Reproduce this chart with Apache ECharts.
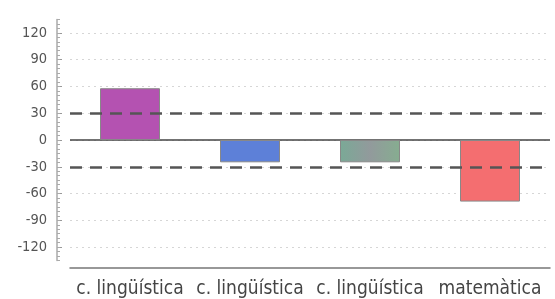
<!doctype html>
<html>
<head>
<meta charset="UTF-8">
<title>chart</title>
<script src="https://cdn.jsdelivr.net/npm/echarts@6/dist/echarts.min.js"></script>
<style>
    html, body { margin: 0; padding: 0; background: #fff; }
    #main { width: 555px; height: 299px; }
</style>
</head>
<body>
<div id="main"></div>
<script>
    var categories = ['c. lingüística', 'c. lingüística', 'c. lingüística', 'matemàtica'];
    var values = [58, -25, -25, -69];
    var barColors = ['#b452b1', '#5d80d8', '#86a894', '#f46e70'];
    var yTicks = [-120, -90, -60, -30, 0, 30, 60, 90, 120];
    var limits = [30, -30];

    var myChart = echarts.init(document.getElementById('main'));

    var bars = values.map(function (v, i) {
        var c = barColors[i];
        if (i == 2) {
            // the third bar is a green/grey blend
            c = new echarts.graphic.LinearGradient(0, 0, 1, 0, [
                { offset: 0, color: '#7aa996' },
                { offset: 0.5, color: '#929a9c' },
                { offset: 1, color: '#86ad90' }
            ]);
        }
        return { value: v, itemStyle: { color: c } };
    });

    var option = {
        animation: false,
        grid: { left: 70, right: 5, top: 19.5, bottom: 38.5 },
        xAxis: {
            type: 'category',
            data: categories,
            offset: 7,
            axisLine: { onZero: false, lineStyle: { color: '#777', width: 1.5 } },
            axisTick: { alignWithLabel: true, length: 3, lineStyle: { color: '#888' } },
            axisLabel: { color: '#444', fontSize: 19, fontFamily: 'DejaVu Sans Condensed', margin: 12, interval: 0 }
        },
        yAxis: [{
            type: 'value',
            min: -135,
            max: 135,
            interval: 15,
            offset: 13,
            axisLine: { show: true, lineStyle: { color: '#aaa', width: 1.5 } },
            axisTick: { show: true, inside: true, length: 5, customValues: yTicks, lineStyle: { color: '#999' } },
            axisLabel: { customValues: yTicks, color: '#555', fontSize: 14.5, fontFamily: 'DejaVu Sans Condensed', margin: 10 },
            splitLine: { show: true, lineStyle: { color: '#d6d6d6', type: [2, 4], width: 1 } }
        }, {
            // small ticks every 5 units
            type: 'value',
            position: 'left',
            min: -135,
            max: 135,
            interval: 5,
            offset: 13,
            axisLine: { show: false },
            axisTick: { show: true, inside: true, length: 3, lineStyle: { color: '#aaa' } },
            axisLabel: { show: false },
            splitLine: { show: false }
        }],
        series: [{
            type: 'bar',
            data: bars,
            barWidth: 60,
            itemStyle: { borderColor: '#888', borderWidth: 1 },
            markLine: {
                silent: true,
                symbol: 'none',
                label: { show: false },
                z: 1,
                lineStyle: { color: '#444', width: 1.5, type: 'solid' },
                data: [{ yAxis: 0 }]
            }
        }, {
            type: 'line',
            data: [],
            markLine: {
                silent: true,
                symbol: 'none',
                label: { show: false },
                lineStyle: { color: '#555', width: 2.5, type: [12, 8] },
                data: limits.map(function (l) { return { yAxis: l }; })
            }
        }]
    };
    myChart.setOption(option);
</script>
</body>
</html>
